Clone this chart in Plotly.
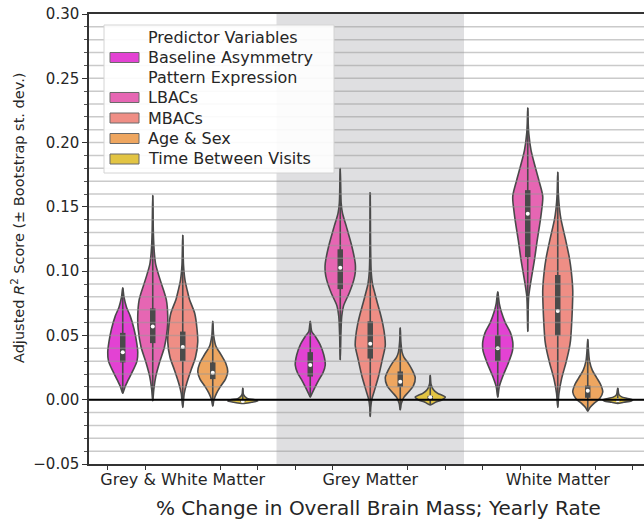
import plotly.graph_objects as go

categories = ["Grey & White Matter", "Grey Matter", "White Matter"]
predictors = ["Baseline Asymmetry", "LBACs", "MBACs", "Age & Sex", "Time Between Visits"]
colors = ["#e342d3", "#e666b3", "#ef8e85", "#eea660", "#e2c443"]
legend_title = "Predictor Variables"
legend_subheading = "Pattern Expression"

# violin outline knots (value, relative half-width), one list per region
baseline_levels = [
    [0.005, 0.010, 0.015, 0.022, 0.030, 0.037, 0.045, 0.055, 0.065, 0.072, 0.080, 0.087],
    [0.002, 0.005, 0.010, 0.016, 0.021, 0.027, 0.035, 0.043, 0.049, 0.053, 0.061],
    [0.002, 0.010, 0.018, 0.029, 0.038, 0.045, 0.052, 0.060, 0.068, 0.075, 0.084],
]
baseline_widths = [
    [0, 0.15, 0.35, 0.65, 0.95, 1.0, 0.92, 0.75, 0.5, 0.25, 0.08, 0],
    [0, 0.12, 0.33, 0.6, 0.85, 1.0, 0.9, 0.65, 0.35, 0.1, 0],
    [0, 0.1, 0.33, 0.72, 0.98, 1.0, 0.85, 0.5, 0.25, 0.1, 0],
]
lbacs_levels = [
    [-0.001, 0.008, 0.018, 0.029, 0.041, 0.055, 0.065, 0.078, 0.093, 0.105, 0.115, 0.130, 0.159],
    [0.031, 0.050, 0.065, 0.073, 0.083, 0.093, 0.099, 0.106, 0.119, 0.135, 0.145, 0.153, 0.165, 0.180],
    [0.053, 0.065, 0.080, 0.093, 0.109, 0.124, 0.135, 0.145, 0.158, 0.169, 0.181, 0.194, 0.207, 0.215, 0.227],
]
lbacs_widths = [
    [0, 0.07, 0.2, 0.45, 0.78, 0.97, 1.0, 0.9, 0.5, 0.2, 0.1, 0.04, 0],
    [0, 0.04, 0.1, 0.22, 0.6, 0.9, 1.0, 1.0, 0.78, 0.4, 0.15, 0.06, 0.03, 0],
    [0, 0.02, 0.06, 0.22, 0.45, 0.63, 0.78, 0.9, 1.0, 0.78, 0.5, 0.22, 0.07, 0.03, 0],
]
mbacs_levels = [
    [-0.006, 0.005, 0.013, 0.023, 0.033, 0.045, 0.055, 0.067, 0.078, 0.085, 0.093, 0.105, 0.128],
    [-0.013, -0.006, 0.0, 0.006, 0.018, 0.031, 0.042, 0.049, 0.058, 0.067, 0.075, 0.083, 0.090, 0.100, 0.120, 0.161],
    [-0.006, 0.005, 0.016, 0.029, 0.039, 0.046, 0.058, 0.070, 0.085, 0.100, 0.110, 0.124, 0.140, 0.148, 0.160, 0.177],
]
mbacs_widths = [
    [0, 0.1, 0.27, 0.55, 0.85, 1.0, 0.95, 0.8, 0.45, 0.3, 0.15, 0.05, 0],
    [0, 0.03, 0.1, 0.25, 0.55, 0.8, 1.0, 0.97, 0.85, 0.67, 0.48, 0.3, 0.15, 0.06, 0.02, 0],
    [0, 0.08, 0.25, 0.55, 0.75, 0.85, 0.92, 0.97, 1.0, 0.9, 0.78, 0.53, 0.22, 0.12, 0.04, 0],
]
age_levels = [
    [-0.005, 0.0, 0.005, 0.010, 0.016, 0.022, 0.028, 0.035, 0.042, 0.050, 0.061],
    [-0.008, -0.003, 0.002, 0.006, 0.011, 0.017, 0.023, 0.029, 0.033, 0.037, 0.045, 0.056],
    [-0.009, -0.006, -0.003, 0.001, 0.006, 0.012, 0.017, 0.023, 0.030, 0.038, 0.047],
]
age_widths = [
    [0, 0.08, 0.25, 0.5, 0.85, 1.0, 0.88, 0.55, 0.2, 0.06, 0],
    [0, 0.07, 0.25, 0.55, 0.88, 1.0, 0.8, 0.5, 0.25, 0.12, 0.04, 0],
    [0, 0.15, 0.4, 0.8, 1.0, 0.85, 0.6, 0.3, 0.12, 0.05, 0],
]
time_levels = [
    [-0.003, -0.002, -0.001, 0.0, 0.001, 0.004, 0.009],
    [-0.004, -0.002, 0.0, 0.002, 0.005, 0.008, 0.012, 0.019],
    [-0.003, -0.002, -0.001, 0.0, 0.002, 0.004, 0.009],
]
time_widths = [
    [0, 0.6, 1.0, 0.8, 0.3, 0.05, 0],
    [0, 0.35, 0.8, 1.0, 0.5, 0.2, 0.05, 0],
    [0, 0.4, 0.9, 1.0, 0.3, 0.08, 0],
]

# inner box statistics per region
baseline_q1 = [0.029, 0.018, 0.030]
baseline_med = [0.037, 0.027, 0.040]
baseline_q3 = [0.052, 0.037, 0.050]
lbacs_q1 = [0.044, 0.086, 0.111]
lbacs_med = [0.057, 0.1026, 0.1446]
lbacs_q3 = [0.071, 0.117, 0.163]
mbacs_q1 = [0.030, 0.032, 0.050]
mbacs_med = [0.041, 0.0435, 0.069]
mbacs_q3 = [0.053, 0.061, 0.097]
age_q1 = [0.016, 0.010, 0.0015]
age_med = [0.021, 0.014, 0.007]
age_q3 = [0.029, 0.022, 0.011]
time_q1 = [-0.0015, 0.0005, -0.001]
time_med = [-0.001, 0.002, -0.0005]
time_q3 = [-0.0005, 0.003, 0.0005]

y_ticks = [-0.05, 0.0, 0.05, 0.10, 0.15, 0.20, 0.25, 0.30]
y_tick_labels = ["\u22120.05", "0.00", "0.05", "0.10", "0.15", "0.20", "0.25", "0.30"]

levels = [baseline_levels, lbacs_levels, mbacs_levels, age_levels, time_levels]
widths = [baseline_widths, lbacs_widths, mbacs_widths, age_widths, time_widths]
q1s = [baseline_q1, lbacs_q1, mbacs_q1, age_q1, time_q1]
meds = [baseline_med, lbacs_med, mbacs_med, age_med, time_med]
q3s = [baseline_q3, lbacs_q3, mbacs_q3, age_q3, time_q3]

# page body margin is removed (post_script below), so the figure fills the window
W, H = 644, 523
ML, MR, MT, MB = 89, 0, 14, 523 - 464
PW, PH = W - ML - MR, H - MT - MB


def px2x(px):
    return (px - ML) / PW


def px2y(py):
    return (H - MB - py) / PH


n_hue = len(predictors)
group_width = 0.8
violin_w = group_width / n_hue
half = violin_w / 2
offsets = [-group_width / 2 + violin_w * (i + 0.5) for i in range(n_hue)]

EDGE = "#4a4a4a"
FONT = "DejaVu Sans"
TXT = "#262626"

fig = go.Figure()

for p, pname in enumerate(predictors):
    for g in range(len(categories)):
        c = g + offsets[p]
        ys = levels[p][g]
        ws = widths[p][g]
        xs_r = [c + w * half for w in ws]
        xs_l = [c - w * half for w in ws]
        px = xs_r + xs_l[::-1][1:]
        py = ys + ys[::-1][1:]
        fig.add_trace(go.Scatter(
            x=px, y=py, mode="lines", fill="toself", fillcolor=colors[p],
            line=dict(color=EDGE, width=1.6, shape="spline", smoothing=0.8),
            name=pname, showlegend=False, hoverinfo="skip"))
        fig.add_trace(go.Scatter(x=[c, c], y=[ys[0], ys[-1]], mode="lines",
                                 line=dict(color=EDGE, width=1.6), showlegend=False, hoverinfo="skip"))
        fig.add_trace(go.Scatter(x=[c, c], y=[q1s[p][g], q3s[p][g]], mode="lines",
                                 line=dict(color=EDGE, width=5.5), showlegend=False, hoverinfo="skip"))
        fig.add_trace(go.Scatter(x=[c], y=[meds[p][g]], mode="markers",
                                 marker=dict(color="white", size=4, line=dict(width=0)),
                                 showlegend=False, hoverinfo="skip"))

shapes = [dict(type="rect", xref="x", yref="paper", x0=0.5, x1=1.5, y0=0, y1=1,
               fillcolor="#dfdfe1", line=dict(width=0), layer="below")]
grid_vals = [round(-0.05 + 0.01 * k, 2) for k in range(1, 35)]
for v in grid_vals:
    shapes.append(dict(type="line", xref="paper", yref="y", x0=0, x1=1, y0=v, y1=v,
                       line=dict(color="rgba(150,150,150,0.5)", width=1.5), layer="above"))
shapes.append(dict(type="line", xref="paper", yref="y", x0=0, x1=1, y0=0, y1=0,
                   line=dict(color="black", width=2), layer="above"))

# legend box (drawn manually to mirror the original legend layout)
shapes.append(dict(type="rect", xref="paper", yref="paper",
                   x0=px2x(104), x1=px2x(334), y0=px2y(173), y1=px2y(25),
                   fillcolor="rgba(255,255,255,0.9)", line=dict(color="#d4d4d4", width=1),
                   layer="above"))
row_centers = [37.5, 57.5, 77.5, 97.5, 118, 138.5, 159]
legend_rows = [legend_title, predictors[0], legend_subheading] + predictors[1:]
annotations = []
for r, label in enumerate(legend_rows):
    yc = row_centers[r]
    if label in predictors:
        k = predictors.index(label)
        shapes.append(dict(type="rect", xref="paper", yref="paper",
                           x0=px2x(110), x1=px2x(139), y0=px2y(yc + 5), y1=px2y(yc - 5),
                           fillcolor=colors[k], line=dict(color="#6a6a6a", width=1), layer="above"))
    annotations.append(dict(x=px2x(146), y=px2y(yc), xref="paper", yref="paper",
                            text=label, showarrow=False, xanchor="left", yanchor="middle",
                            font=dict(family=FONT, size=16, color=TXT)))

annotations.append(dict(x=px2x(378), y=px2y(508), xref="paper", yref="paper",
                        text="% Change in Overall Brain Mass; Yearly Rate", showarrow=False,
                        xanchor="center", yanchor="middle",
                        font=dict(family=FONT, size=20, color=TXT)))
annotations.append(dict(x=px2x(18), y=px2y(218), xref="paper", yref="paper",
                        text="Adjusted <i>R</i><sup>2</sup> Score (\u00b1 Bootstrap st. dev.)",
                        showarrow=False, textangle=-90, xanchor="center", yanchor="middle",
                        font=dict(family=FONT, size=14.5, color=TXT)))

minor_x = [-0.4, -0.2, 0.2, 0.4, 0.6, 0.8, 1.2, 1.4, 1.6, 1.8, 2.2, 2.4]

fig.update_layout(
    width=W, height=H,
    margin=dict(l=ML, r=MR, t=MT, b=MB, autoexpand=False),
    paper_bgcolor="white", plot_bgcolor="white",
    font=dict(family=FONT, color=TXT),
    shapes=shapes, annotations=annotations,
    showlegend=False,
    hovermode=False,
    xaxis=dict(range=[-0.5, 2.46], tickmode="array", tickvals=[0, 1, 2], ticktext=categories,
               ticks="", showgrid=False, zeroline=False, automargin=False,
               showline=True, linecolor="#333333", linewidth=1.5, mirror=True,
               tickfont=dict(family=FONT, size=16, color=TXT),
               minor=dict(tickmode="array", tickvals=minor_x, ticks="outside", ticklen=4,
                          tickcolor="#333333", tickwidth=1, showgrid=False)),
    yaxis=dict(range=[-0.05, 0.30], tickmode="array", tickvals=y_ticks, ticktext=y_tick_labels,
               ticks="outside", ticklen=5, tickcolor="#333333", tickwidth=1, automargin=False,
               showgrid=False, zeroline=False, showline=True, linecolor="#333333", linewidth=1.5,
               tickfont=dict(family=FONT, size=15, color=TXT),
               minor=dict(dtick=0.01, tick0=0, ticks="outside", ticklen=3,
                          tickcolor="#555555", tickwidth=1, showgrid=False)),
)

fig.write_html("out.html", config={"displayModeBar": False},
               post_script="document.body.style.margin='0px';document.body.style.overflow='hidden';")
